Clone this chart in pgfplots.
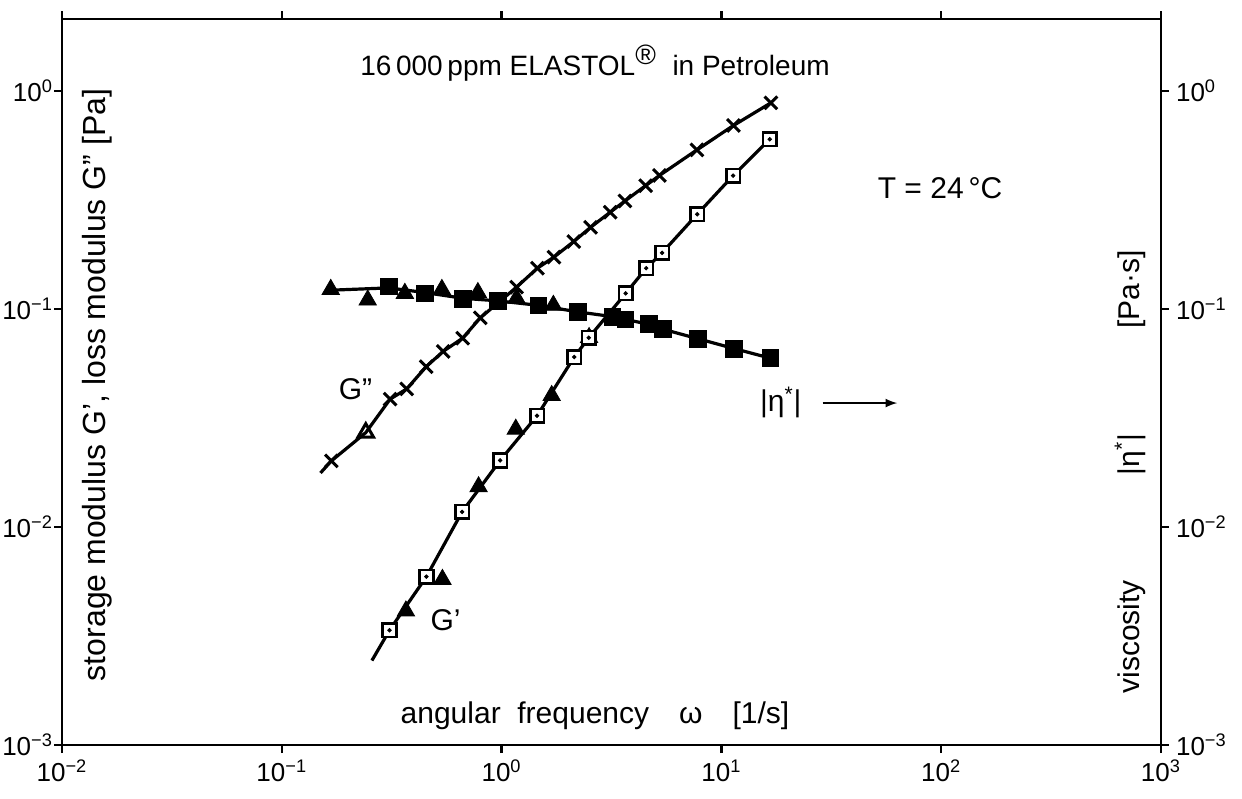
\documentclass[border=0pt]{standalone}
\usepackage{fontspec}
\setmainfont{Liberation Sans}
\usepackage{pgfplots}
\pgfplotsset{compat=1.18}
\begin{document}
\begin{tikzpicture}
\begin{axis}[name=ax,
  scale only axis, width=549.5pt, height=363pt,
  xmode=log, ymode=log,
  xmin=0.01, xmax=1000, ymin=0.001, ymax=2.14,
  tick align=outside, major tick length=4pt, minor tick length=0pt,
  tick style={line width=1.2pt, black},
  axis line style={line width=1.4pt},
  tick label style={font=\fontsize{13}{13}\selectfont},
  yticklabel style={xshift=3pt},
  clip=false,
  xtick={0.01,0.1,1,10,100,1000},
  xticklabels={10\textsuperscript{−2},10\textsuperscript{−1},10\textsuperscript{0},10\textsuperscript{1},10\textsuperscript{2},10\textsuperscript{3}},
  xtick pos=both, xticklabel pos=left,
  ytick={0.001,0.01,0.1,1},
  yticklabels={10\textsuperscript{−3},10\textsuperscript{−2},10\textsuperscript{−1},10\textsuperscript{0}},
  ytick pos=left, yticklabel pos=left,
]
% G'' line
\addplot[line width=1.6pt, no marks] coordinates {
(0.150,0.0177) (0.168,0.0201) (0.241,0.0271) (0.311,0.0386) (0.370,0.0430)
(0.454,0.0544) (0.542,0.0639) (0.665,0.0735) (0.800,0.0911) (1.17,0.126)
(1.455,0.154) (1.73,0.173) (2.13,0.204) (2.54,0.237) (3.12,0.278)
(3.64,0.313) (4.52,0.368) (5.23,0.410) (7.74,0.537) (11.35,0.695) (16.8,0.883)};
% G' line
\addplot[line width=1.6pt, no marks] coordinates {
(0.257,0.00244) (0.309,0.00336) (0.455,0.00592) (0.661,0.01173) (0.985,0.0202)
(1.45,0.0324) (2.14,0.0602) (2.49,0.0738) (3.67,0.118) (4.55,0.154)
(5.37,0.181) (7.76,0.272) (11.3,0.409) (16.6,0.601)};
% |eta*| line
\addplot[line width=1.6pt, no marks] coordinates {
(0.167,0.122) (0.307,0.125) (0.448,0.119) (0.668,0.112) (0.964,0.109)
(1.47,0.104) (2.23,0.097) (3.19,0.0923) (3.66,0.0896) (4.66,0.0852)
(5.40,0.0809) (7.81,0.0731) (11.4,0.0659) (16.7,0.0595)};
% G'' crosses
\addplot[only marks, mark=x, mark size=4.5pt, line width=1.5pt] coordinates {
(0.168,0.0201) (0.311,0.0386) (0.370,0.0430) (0.454,0.0544) (0.542,0.0639)
(0.665,0.0735) (0.800,0.0911) (1.17,0.126) (1.455,0.154) (1.73,0.173)
(2.13,0.204) (2.54,0.237) (3.12,0.278) (3.64,0.313) (4.52,0.368)
(5.23,0.410) (7.74,0.537) (11.35,0.695) (16.8,0.883)};
% G'' open triangle
\addplot[only marks, mark=triangle, mark size=4.5pt, line width=1.5pt] coordinates {(0.241,0.0271)};
% eta* filled triangles
\addplot[only marks, mark=triangle*, mark size=5pt, black] coordinates {
(0.167,0.123) (0.246,0.110) (0.363,0.118) (0.535,0.123) (0.780,0.119)
(1.17,0.112) (1.72,0.104)};
% eta* filled squares
\addplot[only marks, mark=square*, mark size=4.2pt, black] coordinates {
(0.307,0.127) (0.448,0.118) (0.668,0.111) (0.964,0.109) (1.47,0.104)
(2.23,0.0970) (3.19,0.0923) (3.66,0.0896) (4.66,0.0852) (5.40,0.0809)
(7.81,0.0731) (11.4,0.0659) (16.7,0.0595)};
% G' filled triangles
\addplot[only marks, mark=triangle*, mark size=5pt, black] coordinates {
(0.367,0.00412) (0.538,0.00575) (0.786,0.0153) (1.16,0.0281) (1.69,0.0401) (2.5,0.074)};
% G' open squares with dot
\addplot[only marks, mark=square*, mark size=3.4pt, line width=1.3pt, mark options={fill=white, draw=black}] coordinates {
(0.309,0.00336) (0.455,0.00592) (0.661,0.01173) (0.985,0.0202) (1.45,0.0324)
(2.14,0.0602) (2.49,0.0738) (3.67,0.118) (4.55,0.154) (5.37,0.181)
(7.76,0.272) (11.3,0.409) (16.6,0.601)};
\addplot[only marks, mark=*, mark size=0.9pt, black] coordinates {
(0.309,0.00336) (0.455,0.00592) (0.661,0.01173) (0.985,0.0202) (1.45,0.0324)
(2.14,0.0602) (2.49,0.0738) (3.67,0.118) (4.55,0.154) (5.37,0.181)
(7.76,0.272) (11.3,0.409) (16.6,0.601)};
% texts
\node[font=\fontsize{14}{14}\selectfont] at (rel axis cs:0.485,0.939) {16\,000\,ppm ELASTOL\textsuperscript{\fontsize{14}{14}\selectfont\textregistered}\ \ in Petroleum};
\node[font=\fontsize{15}{15}\selectfont] at (rel axis cs:0.799,0.767) {T = 24\,°C};
\node[font=\fontsize{15}{15}\selectfont] at (rel axis cs:0.267,0.490) {G''};
\node[font=\fontsize{15}{15}\selectfont] at (rel axis cs:0.349,0.172) {G'};
\node[font=\fontsize{15}{15}\selectfont] at (rel axis cs:0.654,0.472) {|η\textsuperscript{*}|};
\draw[line width=1pt, -latex] (rel axis cs:0.692,0.471) -- (rel axis cs:0.760,0.471);
\node[font=\fontsize{15}{15}\selectfont] at (rel axis cs:0.485,0.041) {angular\ \ frequency\quad ω\quad [1/s]};
\node[font=\fontsize{16}{16}\selectfont, rotate=90] at (rel axis cs:0.032,0.496) {storage modulus G', loss modulus G'' [Pa]};
\node[font=\fontsize{15}{15}\selectfont, rotate=90] at (rel axis cs:0.972,0.376) {viscosity\hspace{3.5em}|η\textsuperscript{*}|\hspace{3.5em}[Pa·s]};
\end{axis}
\begin{axis}[
  scale only axis, width=549.5pt, height=363pt,
  xmode=log, ymode=log,
  xmin=0.01, xmax=1000, ymin=0.001, ymax=2.14,
  tick align=outside, major tick length=4pt, minor tick length=0pt,
  tick style={line width=1.2pt, black},
  axis line style={line width=1.4pt},
  tick label style={font=\fontsize{13}{13}\selectfont},
  axis x line=none, axis y line*=right,
  ytick={0.001,0.01,0.1,1},
  yticklabels={10\textsuperscript{−3},10\textsuperscript{−2},10\textsuperscript{−1},10\textsuperscript{0}},
]
\end{axis}
\pgfresetboundingbox
\path[use as bounding box] ([shift={(-31pt,-26.5pt)}]ax.south west) rectangle ([shift={(40.5pt,9.5pt)}]ax.north east);
\end{tikzpicture}
\end{document}
